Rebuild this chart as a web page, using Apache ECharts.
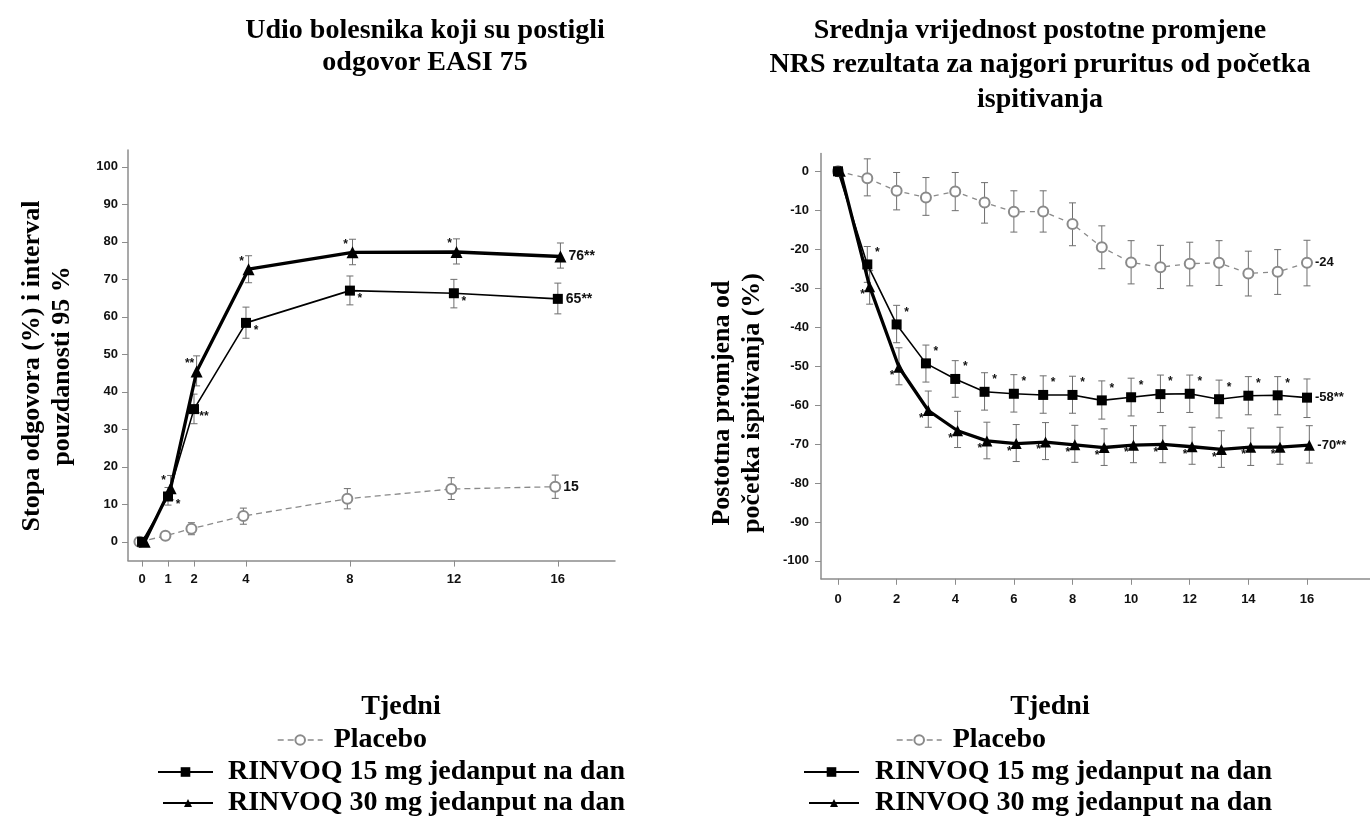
<!DOCTYPE html>
<html>
<head>
<meta charset="utf-8">
<script src="https://cdn.jsdelivr.net/npm/echarts@6/dist/echarts.min.js"></script>
<style>
  html, body { margin: 0; padding: 0; background: #fff; }
  #chart { width: 1370px; height: 821px; }
</style>
</head>
<body>
<div id="chart"></div>
<script>
// lijevo: EASI 75
const easiWeeks = [0, 1, 2, 4, 8, 12, 16];
const easiPlacebo   = [0, 1.6, 3.5, 6.9, 11.5, 14.1, 14.7];
const easiPlaceboLo = [0, 0.6, 1.9, 4.7, 8.8, 11.3, 11.6];
const easiPlaceboHi = [0, 2.6, 5.1, 9.0, 14.2, 17.1, 17.8];
const easi15   = [0, 12.1, 35.4, 58.4, 67.0, 66.3, 64.8];
const easi15Lo = [0, 9.8, 31.5, 54.3, 63.2, 62.4, 60.8];
const easi15Hi = [0, 14.5, 39.4, 62.6, 70.9, 70.0, 69.0];
const easi30   = [0, 14.3, 45.4, 72.7, 77.2, 77.3, 76.1];
const easi30Lo = [0, 11.2, 41.6, 69.1, 73.9, 74.1, 73.0];
const easi30Hi = [0, 17.7, 49.6, 76.3, 80.7, 80.8, 79.7];
const easi15Stars = ['', '*', '**', '*', '*', '*', ''];
const easi30Stars = ['', '*', '**', '*', '*', '*', ''];
const easiEnd = ['15', '65**', '76**'];
const easiYTicks = [0, 10, 20, 30, 40, 50, 60, 70, 80, 90, 100];

// desno: NRS pruritus
const nrsWeeks = [0, 1, 2, 3, 4, 5, 6, 7, 8, 9, 10, 11, 12, 13, 14, 15, 16];
const nrsPlacebo   = [0, -1.8, -5.0, -6.7, -5.2, -8.0, -10.4, -10.3, -13.5, -19.5, -23.4, -24.6, -23.7, -23.5, -26.2, -25.8, -23.5];
const nrsPlaceboHi = [0, 3.2, -0.3, -1.6, -0.3, -2.9, -5.0, -5.0, -8.1, -14.0, -17.8, -19.0, -18.2, -17.8, -20.5, -20.1, -17.7];
const nrsPlaceboLo = [0, -6.3, -9.9, -11.3, -10.1, -13.3, -15.6, -15.6, -19.1, -25.0, -28.9, -30.1, -29.4, -29.3, -32.0, -31.6, -29.4];
const nrs15   = [0, -23.9, -39.3, -49.3, -53.3, -56.6, -57.1, -57.4, -57.4, -58.8, -58.0, -57.2, -57.1, -58.5, -57.6, -57.5, -58.1];
const nrs15Hi = [0, -19.3, -34.4, -44.6, -48.6, -51.7, -52.2, -52.5, -52.6, -53.8, -53.1, -52.3, -52.3, -53.6, -52.7, -52.7, -53.3];
const nrs15Lo = [0, -28.5, -44.0, -54.1, -58.0, -61.3, -61.8, -62.1, -62.1, -63.6, -62.8, -61.9, -61.9, -63.3, -62.5, -62.5, -63.2];
const nrs30   = [0, -29.6, -50.3, -61.4, -66.6, -69.2, -69.9, -69.5, -70.2, -70.9, -70.3, -70.1, -70.7, -71.4, -70.8, -70.8, -70.3];
const nrs30Hi = [0, -25.5, -45.3, -56.4, -61.6, -64.4, -65.0, -64.5, -65.2, -66.1, -65.3, -65.3, -65.7, -66.6, -65.9, -65.7, -65.3];
const nrs30Lo = [0, -34.1, -54.8, -65.7, -70.9, -73.8, -74.5, -74.0, -74.7, -75.5, -74.8, -74.8, -75.2, -76.0, -75.5, -75.2, -74.9];
const nrs15Stars = ['', '*', '*', '*', '*', '*', '*', '*', '*', '*', '*', '*', '*', '*', '*', '*', ''];
const nrs30Stars = ['', '*', '*', '*', '*', '*', '*', '*', '*', '*', '*', '*', '*', '*', '*', '*', ''];
const nrsEnd = ['-24', '-58**', '-70**'];
const nrsXTicks = [0, 2, 4, 6, 8, 10, 12, 14, 16];
const nrsYTicks = [-100, -90, -80, -70, -60, -50, -40, -30, -20, -10, 0];

const names = ['Placebo', 'RINVOQ 15 mg jedanput na dan', 'RINVOQ 30 mg jedanput na dan'];

const serif = '"Liberation Serif", "Times New Roman", serif';
const sans = '"Liberation Sans", Arial, sans-serif';
const GRAY = '#8a8a8a';
const AXIS = '#8c8c8c';

const pts = (xs, ys, shift) => xs.map((w, i) => [w + shift, ys[i]]);

function errorBars(g, xs, mean, lo, hi, stars, off, shift) {
  return {
    type: 'custom', xAxisIndex: g, yAxisIndex: g, z: 1, silent: true,
    data: xs.map((w, i) => [w + shift, lo[i], hi[i], mean[i]]),
    renderItem: (params, api) => {
      const i = params.dataIndex;
      const x = api.value(0);
      const top = api.coord([x, api.value(2)]);
      const bot = api.coord([x, api.value(1)]);
      const mid = api.coord([x, api.value(3)]);
      const kids = [];
      const st = { stroke: '#6e6e6e', lineWidth: 1 };
      if (bot[1] - top[1] > 1) {
        kids.push({ type: 'line', shape: { x1: top[0], y1: top[1], x2: bot[0], y2: bot[1] }, style: st });
        kids.push({ type: 'line', shape: { x1: top[0] - 3.5, y1: top[1], x2: top[0] + 3.5, y2: top[1] }, style: st });
        kids.push({ type: 'line', shape: { x1: bot[0] - 3.5, y1: bot[1], x2: bot[0] + 3.5, y2: bot[1] }, style: st });
      }
      if (stars && stars[i]) {
        kids.push({
          type: 'text', x: mid[0] + off[0], y: mid[1] + off[1],
          style: { text: stars[i], fill: '#111', font: 'bold 12px ' + sans, align: 'center', verticalAlign: 'middle' }
        });
      }
      return { type: 'group', children: kids };
    }
  };
}

function endLabel(txt, size) {
  return { show: true, formatter: txt, distance: 8, color: '#111', fontFamily: sans, fontWeight: 'bold', fontSize: size };
}

function lineSeries(g, name, data, kind, end, size) {
  const base = { type: 'line', name, xAxisIndex: g, yAxisIndex: g, data, z: 3, endLabel: endLabel(end, size) };
  if (kind === 'p') {
    return Object.assign(base, {
      symbol: 'emptyCircle', symbolSize: 10,
      lineStyle: { color: GRAY, width: 1.3, type: g === 0 ? [6, 4] : [5, 5] },
      itemStyle: { color: GRAY, borderWidth: 1.2 }
    });
  }
  if (kind === 's') {
    return Object.assign(base, {
      symbol: 'rect', symbolSize: 10,
      lineStyle: { color: '#000', width: 1.6 }, itemStyle: { color: '#000' }
    });
  }
  return Object.assign(base, {
    symbol: 'triangle', symbolSize: g === 0 ? 12 : 11,
    lineStyle: { color: '#000', width: 3.3 }, itemStyle: { color: '#000' }
  });
}

function xAxis(g, min, max, ticks, margin) {
  return {
    gridIndex: g, type: 'value', min, max,
    axisLine: { show: true, onZero: false, lineStyle: { color: AXIS, width: 1.5 } },
    axisTick: { show: true, length: 6, customValues: ticks, lineStyle: { color: AXIS } },
    axisLabel: { customValues: ticks, margin, color: '#111', fontFamily: sans, fontWeight: 'bold', fontSize: 13 },
    splitLine: { show: false }
  };
}
function yAxis(g, min, max, ticks, margin) {
  return {
    gridIndex: g, type: 'value', min, max,
    axisLine: { show: true, onZero: false, lineStyle: { color: AXIS, width: 1.5 } },
    axisTick: { show: true, length: 6, customValues: ticks, lineStyle: { color: AXIS } },
    axisLabel: { customValues: ticks, margin, color: '#111', fontFamily: sans, fontWeight: 'bold', fontSize: 13 },
    splitLine: { show: false }
  };
}

function legend(name, left, cy, w, h, pad, lw) {
  return {
    data: [name], left, top: cy - 15, padding: 0, itemWidth: w, itemHeight: h,
    selectedMode: false,
    lineStyle: { width: lw },
    textStyle: { fontFamily: serif, fontWeight: 'bold', fontSize: 28, lineHeight: 30, color: '#000', padding: [0, 0, 0, pad] }
  };
}

function text(x, y, str, size, lh, rot) {
  return {
    type: 'text', x, y, rotation: rot || 0,
    style: { text: str, font: 'bold ' + size + 'px ' + serif, fill: '#000', align: 'center', verticalAlign: 'middle', lineHeight: lh }
  };
}

const chart = echarts.init(document.getElementById('chart'));
chart.setOption({
  animation: false,
  backgroundColor: '#fff',
  grid: [
    { left: 128, top: 150, width: 487, height: 410.6 },
    { left: 821, top: 153.4, width: 549, height: 425.4 }
  ],
  xAxis: [xAxis(0, -0.54, 18.2, easiWeeks, 12), xAxis(1, -0.58, 18.15, nrsXTicks, 14)],
  yAxis: [yAxis(0, -5, 104.5, easiYTicks, 10), yAxis(1, -104.6, 4.6, nrsYTicks, 12)],
  legend: [
    legend(names[0], 277, 740, 45, 12, 6, 1.4),
    legend(names[1], 157, 772, 55, 12, 10, 2),
    legend(names[2], 162, 803, 50, 10, 10, 2),
    legend(names[0], 896, 740, 45, 12, 6, 1.4),
    legend(names[1], 803, 772, 55, 12, 11, 2),
    legend(names[2], 808, 803, 50, 10, 11, 2)
  ],
  graphic: [
    text(425, 47, 'Udio bolesnika koji su postigli\nodgovor EASI 75', 28, 32),
    text(1040, 65, 'Srednja vrijednost postotne promjene\nNRS rezultata za najgori pruritus od početka\nispitivanja', 28, 34.5),
    text(47, 366, 'Stopa odgovora (%) i interval\npouzdanosti 95 %', 26, 30, Math.PI / 2),
    text(737, 403, 'Postotna promjena od\npočetka ispitivanja (%)', 26, 30, Math.PI / 2),
    text(401, 707, 'Tjedni', 28, 30),
    text(1050, 707, 'Tjedni', 28, 30)
  ],
  series: [
    errorBars(0, easiWeeks, easiPlacebo, easiPlaceboLo, easiPlaceboHi, null, [0, 0], -0.1),
    errorBars(0, easiWeeks, easi15, easi15Lo, easi15Hi, easi15Stars, [10, 8], 0),
    errorBars(0, easiWeeks, easi30, easi30Lo, easi30Hi, easi30Stars, [-7, -8], 0.1),
    lineSeries(0, names[0], pts(easiWeeks, easiPlacebo, -0.1), 'p', easiEnd[0], 14),
    lineSeries(0, names[1], pts(easiWeeks, easi15, 0), 's', easiEnd[1], 14),
    lineSeries(0, names[2], pts(easiWeeks, easi30, 0.1), 't', easiEnd[2], 14),

    errorBars(1, nrsWeeks, nrsPlacebo, nrsPlaceboLo, nrsPlaceboHi, null, [0, 0], 0),
    errorBars(1, nrsWeeks, nrs15, nrs15Lo, nrs15Hi, nrs15Stars, [10, -12], 0),
    errorBars(1, nrsWeeks, nrs30, nrs30Lo, nrs30Hi, nrs30Stars, [-7, 8], 0.08),
    lineSeries(1, names[0], pts(nrsWeeks, nrsPlacebo, 0), 'p', nrsEnd[0], 13),
    lineSeries(1, names[1], pts(nrsWeeks, nrs15, 0), 's', nrsEnd[1], 13),
    lineSeries(1, names[2], pts(nrsWeeks, nrs30, 0.08), 't', nrsEnd[2], 13)
  ]
});
</script>
</body>
</html>
